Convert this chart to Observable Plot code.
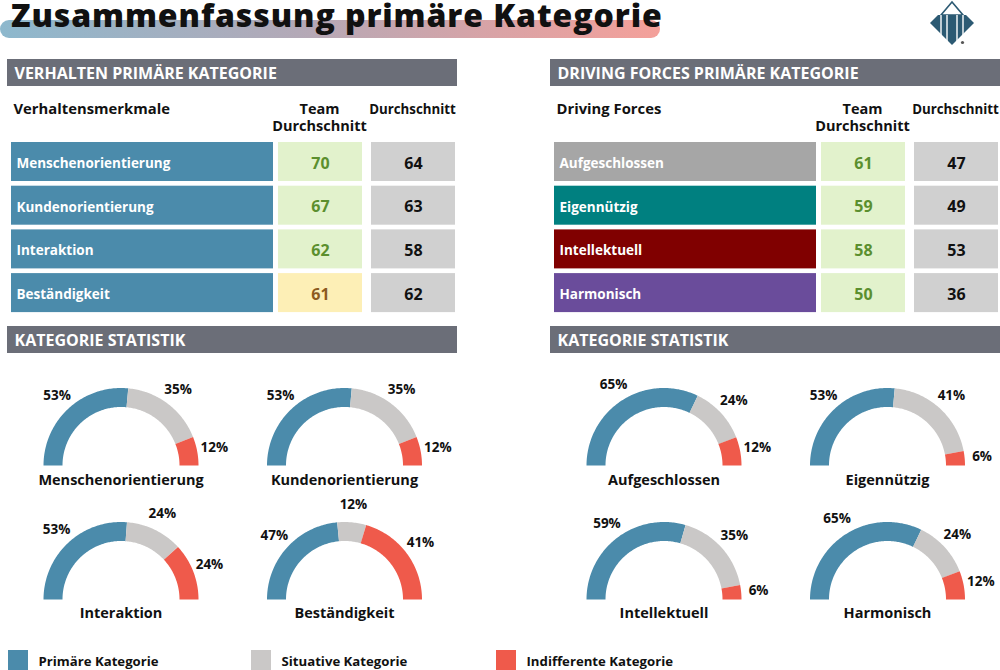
<!DOCTYPE html>
<html><head><meta charset="utf-8">
<script src="https://cdn.jsdelivr.net/npm/d3@7"></script>
<script src="https://cdn.jsdelivr.net/npm/@observablehq/plot@0.6"></script>
<style>
html,body{margin:0;padding:0;background:#fff;}
body{width:1000px;height:670px;overflow:hidden;font-family:"Open Sans",sans-serif;}
#title{position:relative;height:52px;width:1000px;}
#title .bar{position:absolute;left:0;top:20px;width:660px;height:18px;border-radius:9px;
  background:linear-gradient(90deg,#8db8cd 0%,#b3a9b7 45%,#d9a3a6 75%,#f4a09a 100%);}
#title h1{position:absolute;left:11px;top:1px;margin:0;font-family:"Open Sans",sans-serif;font-weight:800;font-size:32px;line-height:28px;letter-spacing:0.9px;color:#111;white-space:nowrap;}
#logo{position:absolute;left:925px;top:0;}
#chart svg{display:block;}
</style></head><body>
<div id="title"><div class="bar"></div><h1>Zusammenfassung primäre Kategorie</h1>
<svg id="logo" width="55" height="50" viewBox="925 0 55 50">
  <polygon points="941,15 952,2 963,15" fill="#fff" stroke="#2c5a73" stroke-width="1.6"/>
  <polygon points="930,23 938,15 966,15 974,23 952,45" fill="#2c5a73"/>
  <g stroke="#fff" stroke-width="1.4">
    <line x1="941" y1="15" x2="941" y2="35"/><line x1="947" y1="15" x2="947" y2="41"/>
    <line x1="957" y1="15" x2="957" y2="41"/><line x1="963" y1="15" x2="963" y2="35"/>
  </g>
  <circle cx="962.5" cy="42.5" r="1.6" fill="#555"/>
</svg>
</div>
<div id="chart"></div>
<script>
// ---------- data ----------
const panelTitles = ["VERHALTEN PRIMÄRE KATEGORIE", "DRIVING FORCES PRIMÄRE KATEGORIE"];
const statTitle = "KATEGORIE STATISTIK";
const firstColumnHeads = ["Verhaltensmerkmale", "Driving Forces"];
const teamHeadLines = ["Team", "Durchschnitt"];
const avgHead = "Durchschnitt";

const behaviorNames = ["Menschenorientierung", "Kundenorientierung", "Interaktion", "Beständigkeit"];
const behaviorTeam = [70, 67, 62, 61];
const behaviorAvg = [64, 63, 58, 62];
const behaviorPrimary = [53, 53, 53, 47];
const behaviorSituative = [35, 35, 24, 12];
const behaviorIndifferent = [12, 12, 24, 41];

const forceNames = ["Aufgeschlossen", "Eigennützig", "Intellektuell", "Harmonisch"];
const forceTeam = [61, 59, 58, 50];
const forceAvg = [47, 49, 53, 36];
const forceColors = ["#a6a6a6", "#008080", "#800000", "#6a4c9b"];
const forcePrimary = [65, 53, 59, 65];
const forceSituative = [24, 41, 35, 24];
const forceIndifferent = [12, 6, 6, 12];

const categoryLabels = ["Primäre Kategorie", "Situative Kategorie", "Indifferente Kategorie"];
const categoryColors = ["#4b8bab", "#cac8c7", "#ef5a4b"];

// ---------- layout (styling, not data) ----------
const Y0 = 52, H = 670;
const L = {
  panelOffset: [0, 543],
  headerY: [59, 326], headerH: 27, headerX: [7, 457],
  rowTop: 142, rowStep: 43.7, rowH: 39,
  nameX: [11, 273], teamX: [278, 362], avgX: [371, 455],
  gaugeCx: [120.5, 344], gaugeCy: [465, 599],
  rOuter: 77.5, rInner: 58.5, labelR: 95,
  legendSwatchX: [8, 251, 496], swatchW: 20, legendY: [650, 670]
};
const headerGray = "#6b6e78";
const avgFill = "#d0d0d0";
const goodFill = "#e2f2cc", goodText = "#5b8f2e";
const lowFill = "#fdefb6", lowText = "#8c5a1e";

const panels = [
  {names: behaviorNames, team: behaviorTeam, avg: behaviorAvg, colors: behaviorNames.map(() => categoryColors[0]),
   parts: [behaviorPrimary, behaviorSituative, behaviorIndifferent]},
  {names: forceNames, team: forceTeam, avg: forceAvg, colors: forceColors,
   parts: [forcePrimary, forceSituative, forceIndifferent]}
];

const headerRects = [], headerTexts = [], colHeadsLeft = [], colHeadsMid = [], colHeadsSmall = [];
const cells = [], nameTexts = [], valueTexts = [];
const arcPts = [], pctTexts = [], gaugeNames = [];

panels.forEach((p, pi) => {
  const off = L.panelOffset[pi];
  [panelTitles[pi], statTitle].forEach((t, hi) => {
    headerRects.push({x1: L.headerX[0] + off, x2: Math.min(L.headerX[1] + off, 1000), y1: L.headerY[hi], y2: L.headerY[hi] + L.headerH});
    headerTexts.push({x: L.headerX[0] + off + 7, y: L.headerY[hi] + L.headerH / 2 + 0.5, text: t});
  });
  colHeadsLeft.push({x: L.nameX[0] + off + 2, y: 109, text: firstColumnHeads[pi]});
  const tc = (L.teamX[0] + L.teamX[1]) / 2 + off - 1;
  colHeadsMid.push({x: tc, y: 109, text: teamHeadLines[0]});
  colHeadsMid.push({x: tc, y: 126, text: teamHeadLines[1]});
  colHeadsSmall.push({x: (L.avgX[0] + L.avgX[1]) / 2 + off - 1, y: 109, text: avgHead});

  p.names.forEach((n, i) => {
    const y1 = L.rowTop + i * L.rowStep, y2 = y1 + L.rowH, ym = (y1 + y2) / 2;
    const good = p.team[i] >= p.avg[i];
    cells.push({x1: L.nameX[0] + off, x2: L.nameX[1] + off, y1, y2, fill: p.colors[i]});
    cells.push({x1: L.teamX[0] + off, x2: L.teamX[1] + off, y1, y2, fill: good ? goodFill : lowFill});
    cells.push({x1: L.avgX[0] + off, x2: Math.min(L.avgX[1] + off, 1000), y1, y2, fill: avgFill});
    nameTexts.push({x: L.nameX[0] + off + 5, y: ym + 1.5, text: n});
    valueTexts.push({x: (L.teamX[0] + L.teamX[1]) / 2 + off, y: ym + 1.5, text: String(p.team[i]), fill: good ? goodText : lowText});
    valueTexts.push({x: (L.avgX[0] + L.avgX[1]) / 2 + off, y: ym + 1.5, text: String(p.avg[i]), fill: "#111"});

    // gauge
    const cx = L.gaugeCx[i % 2] + off, cy = L.gaugeCy[Math.floor(i / 2)];
    const vals = p.parts.map(a => a[i]);
    const total = d3.sum(vals);
    const rMid = (L.rOuter + L.rInner) / 2;
    let acc = 0;
    vals.forEach((v, k) => {
      const a0 = acc / total * Math.PI, a1 = (acc + v) / total * Math.PI;
      acc += v;
      const n = Math.max(2, Math.ceil((a1 - a0) / (Math.PI / 180)));
      for (let s = 0; s <= n; s++) {
        const a = a0 + (a1 - a0) * s / n;
        arcPts.push({key: `${pi}-${i}-${k}`, x: cx - rMid * Math.cos(a), y: cy - rMid * Math.sin(a), color: categoryColors[k]});
      }
      const am = (a0 + a1) / 2;
      pctTexts.push({x: cx - L.labelR * Math.cos(am), y: cy - L.labelR * Math.sin(am), text: v + "%"});
    });
    gaugeNames.push({x: cx, y: cy + (i < 2 ? 15 : 14), text: n});
  });
});

const legendRects = categoryLabels.map((c, k) => ({x1: L.legendSwatchX[k], x2: L.legendSwatchX[k] + L.swatchW, y1: L.legendY[0], y2: L.legendY[1], fill: categoryColors[k]}));
const legendTexts = categoryLabels.map((c, k) => ({x: L.legendSwatchX[k] + L.swatchW + 10, y: 661.5, text: c}));

const font = "'Open Sans', sans-serif";
const chart = Plot.plot({
  width: 1000, height: H - Y0,
  marginTop: 0, marginRight: 0, marginBottom: 0, marginLeft: 0,
  x: {domain: [0, 1000], range: [0, 1000], axis: null},
  y: {domain: [Y0, H], range: [0, H - Y0], axis: null},
  color: {type: "identity"},
  style: {fontFamily: font, background: "#fff", overflow: "visible"},
  marks: [
    Plot.rect(headerRects, {x1: "x1", x2: "x2", y1: "y1", y2: "y2", fill: headerGray}),
    Plot.text(headerTexts, {x: "x", y: "y", text: "text", fill: "#fff", fontSize: 16, fontWeight: 700, textAnchor: "start", lineAnchor: "middle"}),
    Plot.text(colHeadsLeft, {x: "x", y: "y", text: "text", fill: "#111", fontSize: 14.8, fontWeight: 700, textAnchor: "start", lineAnchor: "middle"}),
    Plot.text(colHeadsMid, {x: "x", y: "y", text: "text", fill: "#111", fontSize: 14.5, fontWeight: 700, textAnchor: "middle", lineAnchor: "middle"}),
    Plot.text(colHeadsSmall, {x: "x", y: "y", text: "text", fill: "#111", fontSize: 13.3, fontWeight: 700, lineAnchor: "middle"}),
    Plot.rect(cells, {x1: "x1", x2: "x2", y1: "y1", y2: "y2", fill: "fill"}),
    Plot.text(nameTexts, {x: "x", y: "y", text: "text", fill: "#fff", fontSize: 13.5, fontWeight: 700, textAnchor: "start", lineAnchor: "middle"}),
    Plot.text(valueTexts, {x: "x", y: "y", text: "text", fill: "fill", fontSize: 16, fontWeight: 700, lineAnchor: "middle"}),
    Plot.line(arcPts, {x: "x", y: "y", z: "key", stroke: "color", strokeWidth: L.rOuter - L.rInner, strokeLinecap: "butt", strokeLinejoin: "round", curve: "linear"}),
    Plot.text(pctTexts, {x: "x", y: "y", text: "text", fill: "#111", fontSize: 13.5, fontWeight: 700, lineAnchor: "middle"}),
    Plot.text(gaugeNames, {x: "x", y: "y", text: "text", fill: "#111", fontSize: 14.5, fontWeight: 700, lineAnchor: "middle"}),
    Plot.rect(legendRects, {x1: "x1", x2: "x2", y1: "y1", y2: "y2", fill: "fill"}),
    Plot.text(legendTexts, {x: "x", y: "y", text: "text", fill: "#111", fontSize: 13.2, fontWeight: 700, textAnchor: "start", lineAnchor: "middle"})
  ]
});
document.getElementById("chart").appendChild(chart);
</script>
</body></html>
